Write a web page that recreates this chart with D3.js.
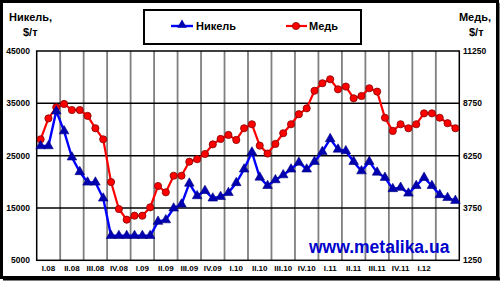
<!DOCTYPE html>
<html>
<head>
<meta charset="utf-8">
<script src="https://cdn.jsdelivr.net/npm/d3@7"></script>
<style>
  body { margin: 0; background: #fff; }
  svg { display: block; font-family: "Liberation Sans", Arial, sans-serif; }
</style>
</head>
<body>
<div id="chart"></div>
<script>
// quarters (3 monthly points each), last quarter unlabeled
const quarters = ["I.08", "II.08", "III.08", "IV.08", "I.09", "II.09", "III.09", "IV.09",
  "I.10", "II.10", "III.10", "IV.10", "I.11", "II.11", "III.11", "IV.11", "I.12", ""];

// monthly prices, $/t, Jan 2008 .. Jun 2012
const nickel = [26850, 26850, 33500, 29700, 24700, 21900, 19900, 19900, 16850,
  9700, 9700, 9700, 9700, 9700, 9700, 12400, 12700, 14950,
  15700, 19700, 17300, 18300, 16850, 17150, 17900, 19800, 22400,
  25650, 20850, 19250, 20350, 21300, 22400, 23700, 22400, 23850,
  25750, 28200, 26200, 25900, 23850, 22050, 23850, 21800, 20800,
  18650, 18900, 17800, 19250, 20800, 19250, 17500, 16950, 16400];

const copper = [7030, 8030, 8560, 8720, 8430, 8430, 8150, 7560, 7030,
  4990, 3700, 3190, 3380, 3380, 3780, 4800, 4500, 5290,
  5290, 5960, 6080, 6330, 6790, 7050, 7240, 7000, 7560,
  7750, 6730, 6350, 6810, 7320, 7750, 8230, 8510, 9350,
  9710, 9900, 9420, 9550, 8990, 9100, 9470, 9310, 8060,
  7430, 7750, 7560, 7750, 8270, 8270, 8060, 7800, 7560];

const leftTicks = [5000, 15000, 25000, 35000, 45000];
const rightTicks = [1250, 3750, 6250, 8750, 11250];

const width = 500, height = 282;
const plot = { left: 36.7, right: 459.3, top: 51, bottom: 260.3 };

const svg = d3.select('#chart').append('svg')
  .attr('width', width)
  .attr('height', height);

const x = d3.scaleBand()
  .domain(d3.range(nickel.length))
  .range([plot.left, plot.right]);
const xq = d3.scaleBand()
  .domain(d3.range(quarters.length))
  .range([plot.left, plot.right]);
const yL = d3.scaleLinear().domain([5000, 45000]).range([plot.bottom, plot.top]);
const yR = d3.scaleLinear().domain([1250, 11250]).range([plot.bottom, plot.top]);
const cx = i => x(i) + x.bandwidth() / 2;

// outer frame
svg.append('rect')
  .attr('x', 1.5).attr('y', 1.5)
  .attr('width', 496).attr('height', 276)
  .attr('fill', '#fff')
  .attr('stroke', '#000')
  .attr('stroke-width', 3);
svg.append('line')
  .attr('x1', 498).attr('x2', 498).attr('y1', 3).attr('y2', 280)
  .attr('stroke', '#000').attr('stroke-width', 3);
svg.append('line')
  .attr('x1', 3).attr('x2', 500).attr('y1', 279).attr('y2', 279)
  .attr('stroke', '#000').attr('stroke-width', 3);

// vertical gridlines at quarter boundaries
svg.append('g')
  .selectAll('line')
  .data(d3.range(1, quarters.length))
  .join('line')
  .attr('x1', d => xq(d)).attr('x2', d => xq(d))
  .attr('y1', plot.top).attr('y2', plot.bottom)
  .attr('stroke', '#7f7f7f')
  .attr('stroke-width', 1.8);

// horizontal gridlines
svg.append('g')
  .selectAll('line')
  .data(leftTicks.slice(1, -1))
  .join('line')
  .attr('x1', plot.left).attr('x2', plot.right)
  .attr('y1', d => yL(d)).attr('y2', d => yL(d))
  .attr('stroke', '#000')
  .attr('stroke-width', 1.5);

// plot border
svg.append('rect')
  .attr('x', plot.left).attr('y', plot.top)
  .attr('width', plot.right - plot.left)
  .attr('height', plot.bottom - plot.top)
  .attr('fill', 'none')
  .attr('stroke', '#000')
  .attr('stroke-width', 1.5);

// axis labels
const tickFont = g => g.attr('font-size', '8.5px').attr('font-weight', 'bold').attr('fill', '#000');

svg.append('g').call(tickFont)
  .selectAll('text')
  .data(leftTicks)
  .join('text')
  .attr('x', 30)
  .attr('y', d => yL(d) + 3)
  .attr('text-anchor', 'end')
  .text(d => d);

svg.append('g').call(tickFont)
  .selectAll('text')
  .data(rightTicks)
  .join('text')
  .attr('x', 463)
  .attr('y', d => yR(d) + 3)
  .text(d => d);

svg.append('g').call(tickFont)
  .selectAll('text')
  .data(quarters)
  .join('text')
  .attr('x', (d, i) => xq(i) + xq.bandwidth() / 2)
  .attr('y', 271)
  .attr('text-anchor', 'middle')
  .attr('font-size', '8px')
  .text(d => d);

// axis titles
const titleFont = t => t.attr('font-size', '11px').attr('font-weight', 'bold').attr('fill', '#000');
svg.append('text').call(titleFont).attr('x', 9).attr('y', 21).text('Никель,');
svg.append('text').call(titleFont).attr('x', 23).attr('y', 36).text('$/т');
svg.append('text').call(titleFont).attr('x', 491).attr('y', 21).attr('text-anchor', 'end').text('Медь,');
svg.append('text').call(titleFont).attr('x', 469).attr('y', 36).text('$/т');

// watermark
svg.append('text')
  .attr('x', 309)
  .attr('y', 253)
  .attr('font-size', '17.5px')
  .attr('font-weight', 'bold')
  .attr('fill', '#0000cc')
  .text('www.metalika.ua');

// copper series
svg.append('path')
  .datum(copper)
  .attr('fill', 'none')
  .attr('stroke', '#ff0000')
  .attr('stroke-width', 2.2)
  .attr('d', d3.line().x((d, i) => cx(i)).y(d => yR(d)));
svg.append('g')
  .selectAll('circle')
  .data(copper)
  .join('circle')
  .attr('cx', (d, i) => cx(i))
  .attr('cy', d => yR(d))
  .attr('r', 3.6)
  .attr('fill', '#ff0000')
  .attr('stroke', '#800000')
  .attr('stroke-width', 0.8);

// nickel series
svg.append('path')
  .datum(nickel)
  .attr('fill', 'none')
  .attr('stroke', '#0000ff')
  .attr('stroke-width', 2.4)
  .attr('d', d3.line().x((d, i) => cx(i)).y(d => yL(d)));
const tri = d3.symbol().type(d3.symbolTriangle).size(40);
svg.append('g')
  .selectAll('path')
  .data(nickel)
  .join('path')
  .attr('d', tri)
  .attr('transform', (d, i) => `translate(${cx(i)},${yL(d)})`)
  .attr('fill', '#0000b0')
  .attr('stroke', '#000080')
  .attr('stroke-width', 0.6);

// legend
const legend = svg.append('g');
legend.append('rect')
  .attr('x', 144).attr('y', 10)
  .attr('width', 217).attr('height', 34)
  .attr('fill', '#fff')
  .attr('stroke', '#000')
  .attr('stroke-width', 2);
legend.append('line')
  .attr('x1', 171).attr('x2', 193).attr('y1', 26).attr('y2', 26)
  .attr('stroke', '#0000ff').attr('stroke-width', 2.4);
legend.append('path')
  .attr('d', tri)
  .attr('transform', 'translate(182,25)')
  .attr('fill', '#0000b0');
legend.append('text')
  .attr('x', 196).attr('y', 30)
  .attr('font-size', '11px').attr('font-weight', 'bold')
  .text('Никель');
legend.append('line')
  .attr('x1', 286).attr('x2', 307).attr('y1', 26).attr('y2', 26)
  .attr('stroke', '#ff0000').attr('stroke-width', 2.2);
legend.append('circle')
  .attr('cx', 296).attr('cy', 26).attr('r', 3.6)
  .attr('fill', '#ff0000').attr('stroke', '#800000').attr('stroke-width', 0.8);
legend.append('text')
  .attr('x', 309).attr('y', 30)
  .attr('font-size', '11px').attr('font-weight', 'bold')
  .text('Медь');
</script>
</body>
</html>
